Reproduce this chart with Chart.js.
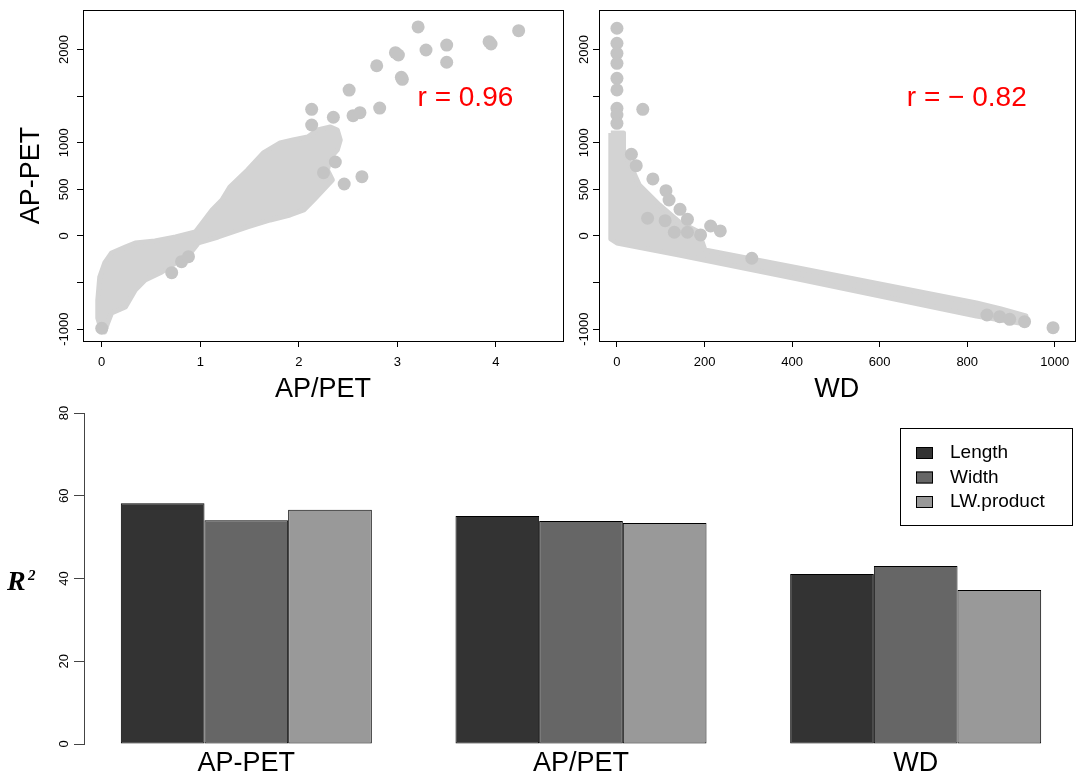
<!DOCTYPE html>
<html>
<head>
<meta charset="utf-8">
<script src="https://cdn.jsdelivr.net/npm/chart.js@4.4.1/dist/chart.umd.min.js"></script>
<style>
body{margin:0;background:#fff;width:1081px;height:776px;overflow:hidden;position:relative}
canvas{position:absolute}
</style>
</head>
<body>
<canvas id="ratioPlot" width="575" height="410" style="left:0;top:0"></canvas>
<canvas id="wdPlot" width="561" height="410" style="left:520px;top:0"></canvas>
<canvas id="r2Plot" width="1081" height="376" style="left:0;top:400px"></canvas>
<script>
// AP/PET vs AP-PET: outline of the dense cloud + the isolated points
const ratioCloud = [[0.00,-1020],[-0.04,-880],[-0.04,-690],[-0.02,-440],[0.03,-290],[0.10,-182],[0.24,-118],[0.34,-75],[0.54,-54],[0.75,-11],[0.95,43],[1.02,139],[1.12,279],[1.22,386],[1.30,526],[1.48,708],[1.64,891],[1.81,998],[1.94,1030],[2.09,1062],[2.19,1137],[2.32,1170],[2.39,1137],[2.42,1030],[2.39,923],[2.32,837],[2.29,708],[2.34,601],[2.15,386],[2.05,279],[1.91,225],[1.71,172],[1.48,97],[1.18,-11],[0.98,-75],[0.90,-182],[0.75,-290],[0.61,-386],[0.44,-472],[0.34,-579],[0.24,-762],[0.10,-826],[0.06,-934],[0.03,-1030],[0.00,-1020]];
const ratioPoints = [[3.21,2243],[4.23,2203],[3.93,2085],[3.95,2060],[2.98,1967],[3.01,1942],[3.29,1996],[3.50,2049],[3.50,1864],[2.79,1827],[3.04,1703],[3.05,1681],[2.51,1566],[2.13,1359],[2.13,1191],[2.35,1274],[2.55,1291],[2.62,1323],[2.82,1373],[2.37,794],[2.25,679],[2.46,558],[2.64,636],[0.71,-394],[0.81,-276],[0.88,-222],[0.00,-990]];

// WD vs AP-PET
const wdCloud = [[-14,1105],[15,1105],[15,923],[51,547],[97,333],[142,150],[187,43],[201,-150],[414,-343],[821,-719],[877,-783],[934,-858],[934,-944],[821,-858],[414,-461],[142,-204],[0,-75],[-14,-32],[-14,1105]];
const wdPoints = [[0,2229],[0,2068],[0,1960],[0,1853],[0,1692],[0,1567],[0,1370],[0,1298],[0,1209],[59,1359],[33,877],[44,754],[82,612],[112,486],[119,386],[144,286],[161,179],[214,107],[236,54],[191,11],[161,40],[131,40],[110,164],[70,190],[308,-239],[845,-848],[874,-866],[897,-894],[931,-920],[996,-984]];

const yTicks = [-1000,-500,0,500,1000,1500,2000];
const yTickLabels = ['-1000','','0','500','1000','','2000'];
const ratioTicks = [0,1,2,3,4];
const wdTicks = [0,200,400,600,800,1000];

// R2 bars
const groups = ['AP-PET','AP/PET','WD'];
const lengthR2 = [58.2, 55.1, 41.1];
const widthR2 = [54.1, 53.9, 43.0];
const lwR2 = [56.6, 53.4, 37.2];
const r2Ticks = [0,20,40,60,80];

const FONT = "'Liberation Sans', Arial, sans-serif";
const toXY = a => a.map(p => ({x: p[0], y: p[1]}));

// box round the plot + the red r value
const frame = {
  id: 'frame',
  afterDraw(chart, args, opts) {
    const a = chart.chartArea, ctx = chart.ctx;
    ctx.save();
    ctx.strokeStyle = '#000';
    ctx.lineWidth = 1;
    ctx.strokeRect(Math.round(a.left) + 0.5, Math.round(a.top) + 0.5, Math.round(a.right - a.left), Math.round(a.bottom - a.top));
    ctx.fillStyle = '#ff0000';
    ctx.font = '28px ' + FONT;
    ctx.textAlign = 'center';
    ctx.textBaseline = 'middle';
    ctx.fillText(opts.text, chart.scales.x.getPixelForValue(opts.x), chart.scales.y.getPixelForValue(opts.y));
    ctx.restore();
  }
};

function scatterPlot(id, cloud, points, xTicks, xMin, xMax, xTitle, yTitle, note, yWidth, labelPad, rightPad) {
  new Chart(document.getElementById(id), {
    type: 'scatter',
    data: {
      datasets: [
        {data: toXY(points), backgroundColor: 'rgb(196,196,196)', borderWidth: 0, pointRadius: 6.5},
        {type: 'line', data: toXY(cloud), fill: 'shape', backgroundColor: 'rgb(211,211,211)',
         borderColor: 'rgb(211,211,211)', borderWidth: 5, borderJoinStyle: 'round', pointRadius: 0, tension: 0}
      ]
    },
    options: {
      responsive: false,
      animation: false,
      events: [],
      layout: {padding: {top: 10, right: rightPad, left: 0, bottom: 0}},
      plugins: {legend: {display: false}, tooltip: {enabled: false}, frame: note},
      scales: {
        x: {
          type: 'linear', min: xMin, max: xMax,
          afterBuildTicks: s => { s.ticks = xTicks.map(v => ({value: v})); },
          afterFit: s => { s.height = 69; },
          border: {display: false},
          grid: {drawOnChartArea: false, color: '#000', tickLength: 6},
          ticks: {color: '#000', font: {family: FONT, size: 13}, padding: 8, maxRotation: 0, autoSkip: false,
                  callback: (v, i) => String(xTicks[i])},
          title: {display: true, text: xTitle, color: '#000', font: {family: FONT, size: 27}, padding: {top: 0, bottom: 4}}
        },
        y: {
          type: 'linear', min: -1127, max: 2425,
          afterBuildTicks: s => { s.ticks = yTicks.map(v => ({value: v})); },
          afterFit: s => { s.width = yWidth; },
          border: {display: false},
          grid: {drawOnChartArea: false, color: '#000', tickLength: 6},
          ticks: {color: '#000', font: {family: FONT, size: 13}, minRotation: 90, maxRotation: 90,
                  crossAlign: 'center', padding: labelPad, autoSkip: false, callback: (v, i) => yTickLabels[i]},
          title: {display: !!yTitle, text: yTitle, color: '#000', font: {family: FONT, size: 27}, padding: {top: 15, bottom: 0}}
        }
      }
    },
    plugins: [frame]
  });
}

scatterPlot('ratioPlot', ratioCloud, ratioPoints, ratioTicks, -0.19, 4.68, 'AP/PET', 'AP-PET',
  {text: 'r = 0.96', x: 3.69, y: 1478}, 83, -3.6, 12);
scatterPlot('wdPlot', wdCloud, wdPoints, wdTicks, -41, 1045, 'WD', '',
  {text: 'r = \u2212 0.82', x: 799, y: 1478}, 79, -7.6, 2);

// legend box and the R² label
const barNotes = {
  id: 'barNotes',
  afterDraw(chart) {
    const ctx = chart.ctx;
    ctx.save();
    ctx.strokeStyle = '#000';
    ctx.lineWidth = 1;
    ctx.strokeRect(900.5, 28.5, 172, 97);
    ctx.font = '19px ' + FONT;
    ctx.textBaseline = 'middle';
    chart.data.datasets.forEach((ds, i) => {
      const y = 53 + i * 24.5;
      ctx.fillStyle = ds.backgroundColor;
      ctx.fillRect(916, y - 6, 17, 12);
      ctx.strokeRect(916.5, y - 5.5, 16, 11);
      ctx.fillStyle = '#000';
      ctx.fillText(ds.label, 950, y);
    });
    ctx.font = "bold italic 28px 'Liberation Serif', serif";
    ctx.textBaseline = 'alphabetic';
    ctx.fillText('R', 7, 190);
    ctx.font = "bold italic 15px 'Liberation Serif', serif";
    ctx.fillText('2', 28, 180);
    ctx.restore();
  }
};

const groupX = groups.map((g, i) => 2.5 + 4 * i);
const bars = (label, vals, color) => ({
  label: label,
  data: vals.map((v, i) => ({x: groupX[i], y: v})),
  backgroundColor: color,
  borderColor: '#000',
  borderWidth: 1,
  borderSkipped: false,
  barPercentage: 1,
  categoryPercentage: 0.75
});

new Chart(document.getElementById('r2Plot'), {
  type: 'bar',
  data: {
    datasets: [
      bars('Length', lengthR2, '#333333'),
      bars('Width', widthR2, '#666666'),
      bars('LW.product', lwR2, '#999999')
    ]
  },
  options: {
    responsive: false,
    animation: false,
    events: [],
    layout: {padding: {top: 13, right: 3, left: 0, bottom: 0}},
    plugins: {legend: {display: false}, tooltip: {enabled: false}},
    scales: {
      x: {
        type: 'linear', min: 0.56, max: 12.44, offset: false,
        afterBuildTicks: s => { s.ticks = groupX.map(v => ({value: v})); },
        afterFit: s => { s.height = 32; },
        border: {display: false},
        grid: {display: false, drawTicks: false},
        ticks: {color: '#000', font: {family: FONT, size: 27}, padding: 3, maxRotation: 0, autoSkip: false,
                callback: (v, i) => groups[i]}
      },
      y: {
        type: 'linear', min: 0, max: 80,
        afterBuildTicks: s => { s.ticks = r2Ticks.map(v => ({value: v})); },
        afterFit: s => { s.width = 84; },
        border: {display: true, color: '#444'},
        grid: {drawOnChartArea: false, color: '#444', tickLength: 10},
        ticks: {color: '#000', font: {family: FONT, size: 13}, minRotation: 90, maxRotation: 90,
                crossAlign: 'center', padding: 2.8, autoSkip: false}
      }
    }
  },
  plugins: [barNotes]
});
</script>
</body>
</html>
